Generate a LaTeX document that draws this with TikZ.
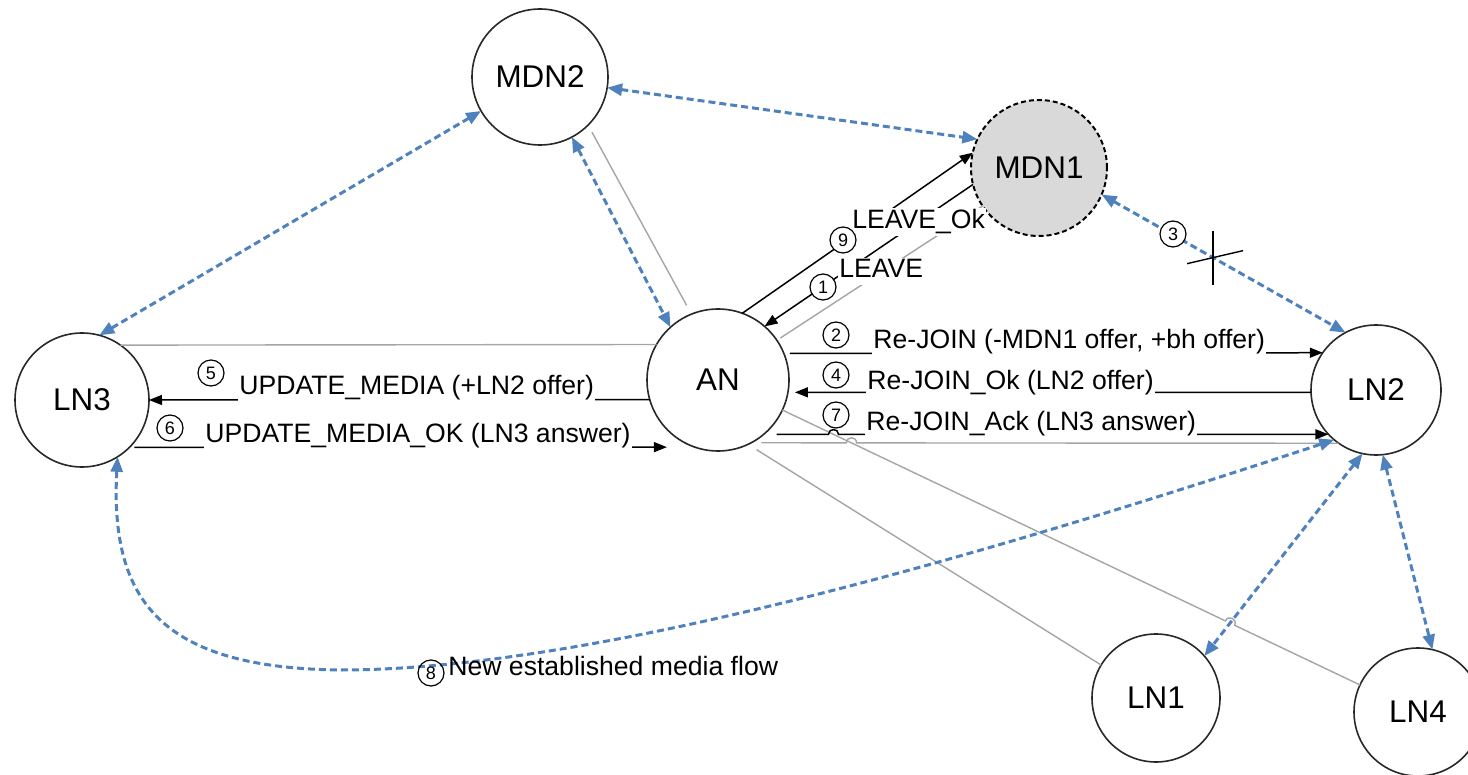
\documentclass[tikz,border=0pt]{standalone}
\usepackage{fontspec}
\setmainfont{Liberation Sans}
\usetikzlibrary{arrows.meta,calc}

\definecolor{linkblue}{RGB}{79,129,189}
\definecolor{wiregray}{RGB}{165,165,165}
\definecolor{nodeedge}{RGB}{40,40,40}
\definecolor{offfill}{RGB}{217,217,217}

\tikzset{
  peer/.style={circle, draw=nodeedge, line width=0.8pt, fill=white, inner sep=0pt,
    outer sep=0pt, font=\fontsize{15.7}{18}\selectfont},
  wire/.style={draw=wiregray, line width=0.7pt},
  msg/.style={draw=black, line width=0.75pt, -{Triangle[length=6.5pt,width=5pt]}},
  media/.style={draw=linkblue, line width=1.5pt, dash pattern=on 3.5pt off 2pt,
    {Triangle[length=7.5pt,width=6pt]}-{Triangle[length=7.5pt,width=6pt]}},
  msgtext/.style={anchor=base west, fill=white, inner xsep=0.5pt, inner ysep=1pt,
    text depth=0.25em, font=\fontsize{13.3}{16}\selectfont},
  stepno/.style={circle, draw=black, line width=0.6pt, fill=white, minimum size=13pt,
    inner sep=0pt, font=\fontsize{9}{9}\selectfont},
}

\begin{document}
\begin{tikzpicture}[x=0.5pt, y=-0.5pt]
\useasboundingbox (0,0) rectangle (1468,775);

% ---- nodes ----
\node[peer, minimum size=68pt] (MDN2) at (540,77) {MDN2};
\node[peer, minimum size=68pt, fill=offfill, draw=black, line width=1pt,
      dash pattern=on 2.5pt off 1.5pt] (MDN1) at (1039,168) {MDN1};
\node[peer, minimum size=71pt] (AN) at (718,380) {AN};
\node[peer, minimum size=67pt] (LN3) at (82,400) {LN3};
\node[peer, minimum size=65pt] (LN2) at (1376,390) {LN2};
\node[peer, minimum size=64pt] (LN1) at (1156,698) {LN1};
\node[peer, minimum size=64pt] (LN4) at (1418,712) {LN4};

% ---- signalling links (grey) ----
\draw[wire, shorten <=4pt, shorten >=5pt] (MDN2.-45) -- (AN.112);
\draw[wire, shorten >=2pt] (MDN1.214) -- (AN.34);
\draw[wire] (LN3.55) -- (AN.150);
\draw[wire, shorten <=5pt] (AN.-62) -- (846.5,442.9)
  .. controls (846.5,436) and (856.5,436) .. (856.5,442.9) -- (LN2.235);
\draw[wire, shorten <=5pt] (AN.-65) -- (LN1.149);
\coordinate (w4a) at (AN.-25);
\coordinate (w4b) at (LN4.155);
\coordinate (h1) at ($(w4a)!0.767!(w4b)$);
\coordinate (h2) at ($(w4a)!0.783!(w4b)$);
\draw[wire] (w4a) -- (h1)
  .. controls ($(h1)!3.5pt!90:(h2)$) and ($(h2)!3.5pt!-90:(h1)$) .. (h2) -- (w4b);

% ---- media flows (blue dashed) ----
\draw[media] (MDN2.210) -- (LN3.75);
\draw[media] (MDN2.-9) -- (MDN1.155);
\draw[media] (MDN2.-62) -- (AN.132);
\draw[media] (MDN1.-23) -- (LN2.118);
\draw[media] (LN2.-102) -- (LN1.41);
\draw[media] (LN2.-84) -- (LN4.77);
\draw[media] (LN3.-58) .. controls (110,600) and (160,668) .. (340,670)
  .. controls (600,670) and (1000,550) .. (LN2.230);

% broken MDN1 -- LN2 media path
\coordinate (cut) at ($(MDN1.-23)!0.457!(LN2.118)$);
\draw[black, line width=0.7pt] ([yshift=13.5pt]cut) -- ([yshift=-13.5pt]cut);
\draw[black, line width=0.7pt] ([xshift=-13pt,yshift=-3pt]cut) -- ([xshift=15pt,yshift=3.5pt]cut);

% ---- signalling messages ----
\draw[msg] (AN.70) -- (MDN1.167);
\draw[msg] (MDN1.194) -- (AN.49);
\draw[msg] ([xshift=3pt]AN.22) -- (LN2.145);
\draw[msg] (LN2.182) -- ([xshift=3.5pt]AN.-10);
\draw[msg] ([xshift=6.5pt]AN.-50) -- (828.5,434.3)
  .. controls (828.5,428) and (838.5,428) .. (838.5,434.3) -- (LN2.223);
\draw[msg] (AN.196) -- (LN3.0);
\draw[msg] ([xshift=2.5pt]LN3.-45) -- ([xshift=-14pt]AN.-109);

% ---- message labels ----
\node[msgtext] (t9) at (851,229) {LEAVE\_Ok};
\node[msgtext] (t1) at (838,278) {LEAVE};
\node[msgtext] (t2) at (872,349) {Re-JOIN (-MDN1 offer, +bh offer)};
\node[msgtext] (t4) at (866,389) {Re-JOIN\_Ok (LN2 offer)};
\node[msgtext] (t7) at (865,430) {Re-JOIN\_Ack (LN3 answer)};
\node[msgtext] (t5) at (238,394) {UPDATE\_MEDIA (+LN2 offer)};
\node[msgtext] (t6) at (204,443) {UPDATE\_MEDIA\_OK (LN3 answer)};
\node[msgtext, fill=none] (t8) at (447,675) {New established media flow};

% ---- step numbers ----
\node[stepno] (s1) at (823,287) {1};
\node[stepno] (s2) at (836,335) {2};
\node[stepno] (s3) at (1173,234) {3};
\node[stepno] (s4) at (836,375) {4};
\node[stepno] (s5) at (211,373) {5};
\node[stepno] (s6) at (170,428) {6};
\node[stepno] (s7) at (836,415) {7};
\node[stepno, fill=none] (s8) at (431,673) {8};
\node[stepno] (s9) at (843,240) {9};
\end{tikzpicture}
\end{document}
